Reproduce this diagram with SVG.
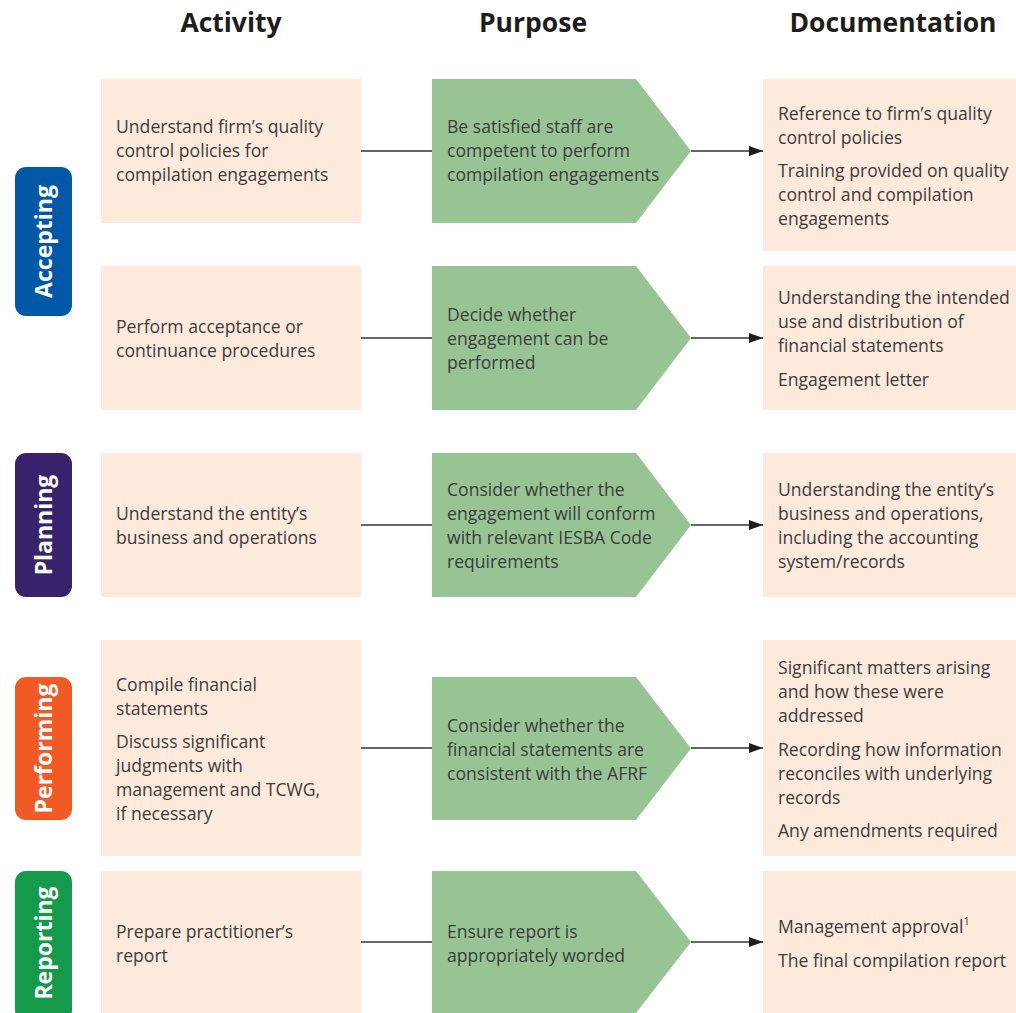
<svg xmlns="http://www.w3.org/2000/svg" width="1016" height="1013" viewBox="0 0 1016 1013">
<style>
.hdr{font-family:"Open Sans","Noto Sans",sans-serif;font-weight:700;font-size:26.5px;fill:#1d1d1b;text-anchor:middle}
.box{fill:#fdeadc}
.pur{fill:#98c495}
.t{font-family:"Open Sans","Noto Sans",sans-serif;font-size:17.6px;fill:#3c3c3b}
.side{font-family:"Open Sans","Noto Sans",sans-serif;font-weight:700;font-size:23px;fill:#ffffff;text-anchor:middle}
.ln{stroke:#333333;stroke-width:1.3;fill:none}
.arr{stroke:#333333;stroke-width:1.3;fill:none;marker-end:url(#ah)}
</style>
<defs>
<marker id="ah" markerWidth="14" markerHeight="10" refX="14" refY="5" orient="auto" markerUnits="userSpaceOnUse">
<path d="M0,0 L14,5 L0,10 Z" fill="#1d1d1b"/>
</marker>
</defs>
<rect width="1016" height="1013" fill="#ffffff"/>
<g id="headers">
<text class="hdr" x="231" y="32">Activity</text>
<text class="hdr" x="533" y="32">Purpose</text>
<text class="hdr" x="893" y="32">Documentation</text>
</g>
<g id="phase-accepting">
<rect x="15" y="167" width="57" height="149" rx="11" fill="#0058a7"/>
<text class="side" transform="translate(52,241.5) rotate(-90)">Accepting</text>
</g>
<g id="phase-planning">
<rect x="15" y="453" width="57" height="144" rx="11" fill="#38226b"/>
<text class="side" transform="translate(52,525) rotate(-90)">Planning</text>
</g>
<g id="phase-performing">
<rect x="15" y="677" width="57" height="143" rx="11" fill="#f15a24"/>
<text class="side" transform="translate(52,748.5) rotate(-90)">Performing</text>
</g>
<g id="phase-reporting">
<rect x="15" y="871" width="57" height="150" rx="11" fill="#15994a"/>
<text class="side" transform="translate(52,943) rotate(-90)">Reporting</text>
</g>
<g id="connectors">
<line class="ln" x1="361" y1="151" x2="432" y2="151"/>
<line class="arr" x1="691" y1="151" x2="763" y2="151"/>
<line class="ln" x1="361" y1="338" x2="432" y2="338"/>
<line class="arr" x1="691" y1="338" x2="763" y2="338"/>
<line class="ln" x1="361" y1="525" x2="432" y2="525"/>
<line class="arr" x1="691" y1="525" x2="763" y2="525"/>
<line class="ln" x1="361" y1="748" x2="432" y2="748"/>
<line class="arr" x1="691" y1="748" x2="763" y2="748"/>
<line class="ln" x1="361" y1="942" x2="432" y2="942"/>
<line class="arr" x1="691" y1="942" x2="763" y2="942"/>
</g>
<g id="activity-1">
<rect class="box" x="101" y="79" width="260" height="144"/>
<text class="t" x="116" y="133">Understand firm’s quality</text>
<text class="t" x="116" y="157">control policies for</text>
<text class="t" x="116" y="181">compilation engagements</text>
</g>
<g id="purpose-1">
<path class="pur" d="M432,79 L636,79 L691,151 L636,223 L432,223 Z"/>
<text class="t" x="447" y="133">Be satisfied staff are</text>
<text class="t" x="447" y="157">competent to perform</text>
<text class="t" x="447" y="181">compilation engagements</text>
</g>
<g id="documentation-1">
<rect class="box" x="763" y="79" width="253" height="172"/>
<text class="t" x="778" y="120">Reference to firm’s quality</text>
<text class="t" x="778" y="144">control policies</text>
<text class="t" x="778" y="177">Training provided on quality</text>
<text class="t" x="778" y="201">control and compilation</text>
<text class="t" x="778" y="225">engagements</text>
</g>
<g id="activity-2">
<rect class="box" x="101" y="266" width="260" height="144"/>
<text class="t" x="116" y="333">Perform acceptance or</text>
<text class="t" x="116" y="357">continuance procedures</text>
</g>
<g id="purpose-2">
<path class="pur" d="M432,266 L636,266 L691,338 L636,410 L432,410 Z"/>
<text class="t" x="447" y="321">Decide whether</text>
<text class="t" x="447" y="345">engagement can be</text>
<text class="t" x="447" y="369">performed</text>
</g>
<g id="documentation-2">
<rect class="box" x="763" y="266" width="253" height="144"/>
<text class="t" x="778" y="304">Understanding the intended</text>
<text class="t" x="778" y="328">use and distribution of</text>
<text class="t" x="778" y="352">financial statements</text>
<text class="t" x="778" y="386">Engagement letter</text>
</g>
<g id="activity-3">
<rect class="box" x="101" y="453" width="260" height="144"/>
<text class="t" x="116" y="520">Understand the entity’s</text>
<text class="t" x="116" y="544">business and operations</text>
</g>
<g id="purpose-3">
<path class="pur" d="M432,453 L636,453 L691,525 L636,597 L432,597 Z"/>
<text class="t" x="447" y="496">Consider whether the</text>
<text class="t" x="447" y="520">engagement will conform</text>
<text class="t" x="447" y="544">with relevant IESBA Code</text>
<text class="t" x="447" y="568">requirements</text>
</g>
<g id="documentation-3">
<rect class="box" x="763" y="453" width="253" height="144"/>
<text class="t" x="778" y="496">Understanding the entity’s</text>
<text class="t" x="778" y="520">business and operations,</text>
<text class="t" x="778" y="544">including the accounting</text>
<text class="t" x="778" y="568">system/records</text>
</g>
<g id="activity-4">
<rect class="box" x="101" y="640" width="260" height="216"/>
<text class="t" x="116" y="691">Compile financial</text>
<text class="t" x="116" y="715">statements</text>
<text class="t" x="116" y="748">Discuss significant</text>
<text class="t" x="116" y="772">judgments with</text>
<text class="t" x="116" y="796">management and TCWG,</text>
<text class="t" x="116" y="820">if necessary</text>
</g>
<g id="purpose-4">
<path class="pur" d="M432,677 L636,677 L691,748.5 L636,820 L432,820 Z"/>
<text class="t" x="447" y="732">Consider whether the</text>
<text class="t" x="447" y="756">financial statements are</text>
<text class="t" x="447" y="780">consistent with the AFRF</text>
</g>
<g id="documentation-4">
<rect class="box" x="763" y="640" width="253" height="216"/>
<text class="t" x="778" y="674">Significant matters arising</text>
<text class="t" x="778" y="698">and how these were</text>
<text class="t" x="778" y="722">addressed</text>
<text class="t" x="778" y="756">Recording how information</text>
<text class="t" x="778" y="780">reconciles with underlying</text>
<text class="t" x="778" y="804">records</text>
<text class="t" x="778" y="837">Any amendments required</text>
</g>
<g id="activity-5">
<rect class="box" x="101" y="871" width="260" height="142"/>
<text class="t" x="116" y="938">Prepare practitioner’s</text>
<text class="t" x="116" y="962">report</text>
</g>
<g id="purpose-5">
<path class="pur" d="M432,871 L636,871 L691,942 L636,1013 L432,1013 Z"/>
<text class="t" x="447" y="938">Ensure report is</text>
<text class="t" x="447" y="962">appropriately worded</text>
</g>
<g id="documentation-5">
<rect class="box" x="763" y="871" width="253" height="142"/>
<text class="t" x="778" y="933">Management approval<tspan font-size="11" dy="-8">1</tspan></text>
<text class="t" x="778" y="967">The final compilation report</text>
</g>
</svg>
